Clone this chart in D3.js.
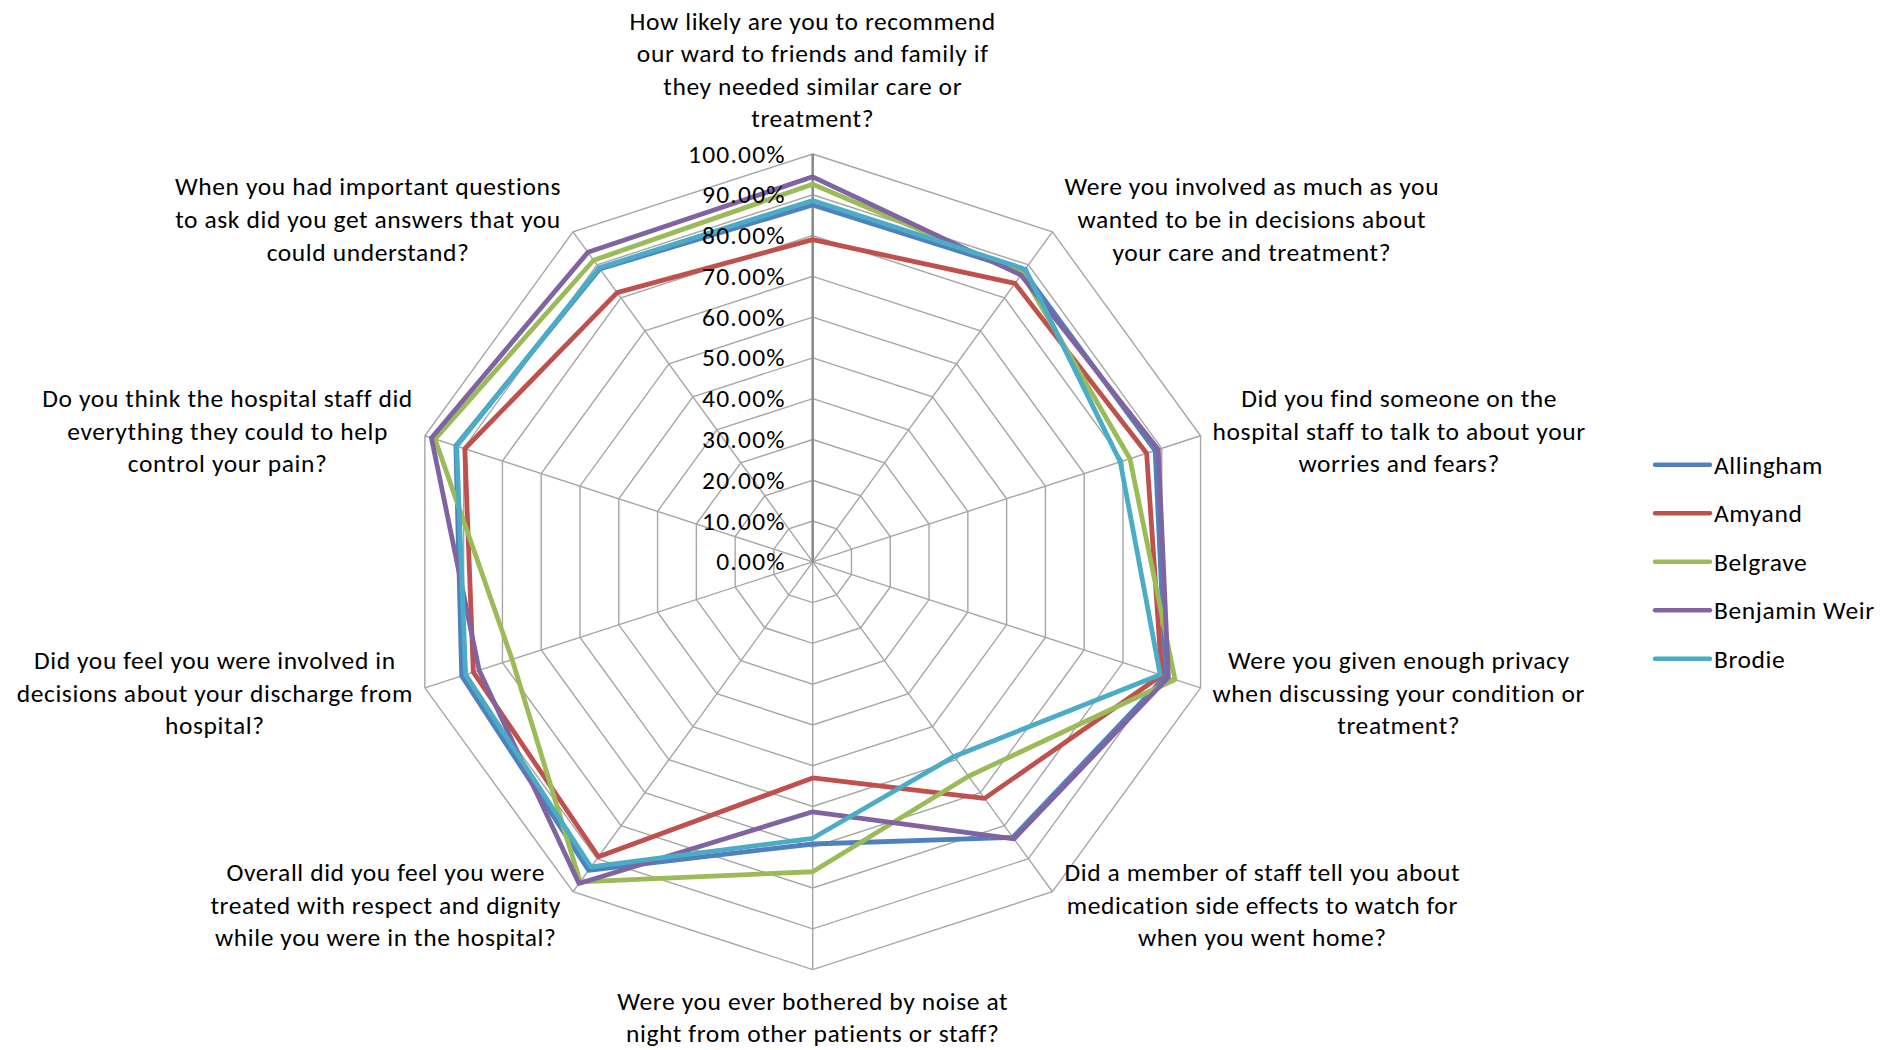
<!DOCTYPE html>
<html>
<head>
<meta charset="utf-8">
<script src="https://cdn.jsdelivr.net/npm/d3@7"></script>
<style>
  html, body { margin: 0; padding: 0; background: #fff; }
  svg { display: block; }
  text { font-family: Calibri, Carlito, Lato, "Noto Sans", sans-serif; fill: #000; letter-spacing: 0.6px; }
  text.tick { letter-spacing: 1.2px; }
</style>
</head>
<body>
<svg id="chart" width="1895" height="1050"></svg>
<script>
// Survey questions, clockwise from the top (line breaks as printed)
const categories = [
  "How likely are you to recommend\nour ward to friends and family if\nthey needed similar care or\ntreatment?",
  "Were you involved as much as you\nwanted to be in decisions about\nyour care and treatment?",
  "Did you find someone on the\nhospital staff to talk to about your\nworries and fears?",
  "Were you given enough privacy\nwhen discussing your condition or\ntreatment?",
  "Did a member of staff tell you about\nmedication side effects to watch for\nwhen you went home?",
  "Were you ever bothered by noise at\nnight from other patients or staff?",
  "Overall did you feel you were\ntreated with respect and dignity\nwhile you were in the hospital?",
  "Did you feel you were involved in\ndecisions about your discharge from\nhospital?",
  "Do you think the hospital staff did\neverything they could to help\ncontrol your pain?",
  "When you had important questions\nto ask did you get answers that you\ncould understand?"
];

// Ward names (legend order = drawing order)
const wards = ["Allingham", "Amyand", "Belgrave", "Benjamin Weir", "Brodie"];

// Positive responses per question, percent
const allingham    = [87.5, 88.0, 88.3, 91.0, 83.5, 69.2, 93.5, 90.5, 92.0, 88.8];
const amyand       = [79.0, 84.4, 86.1, 90.0, 71.7, 53.0, 89.4, 87.5, 89.7, 81.6];
const belgrave     = [92.6, 87.4, 81.8, 93.4, 65.0, 76.0, 97.0, 77.5, 97.4, 91.4];
const benjaminWeir = [94.4, 86.9, 89.1, 91.7, 84.0, 61.3, 97.5, 86.0, 98.3, 93.8];
const brodie       = [88.6, 88.7, 79.3, 89.6, 59.0, 67.8, 92.5, 89.5, 91.8, 89.1];

// Radial axis ticks
const tickValues = [0, 10, 20, 30, 40, 50, 60, 70, 80, 90, 100];
const tickLabels = ["0.00%", "10.00%", "20.00%", "30.00%", "40.00%", "50.00%",
                    "60.00%", "70.00%", "80.00%", "90.00%", "100.00%"];

const wardColors = ["#4F81BD", "#C0504D", "#9BBB59", "#8064A2", "#4BACC6"];
const seriesValues = [allingham, amyand, belgrave, benjaminWeir, brodie];

// ---- layout ----
const svg = d3.select("#chart");
const cx = 812.7, cy = 561.8, R = 407.8;
const fontSize = 25.5, lineH = 32.6;

const r = d3.scaleLinear().domain([0, 100]).range([0, R]);
const angle = d3.scaleLinear().domain([0, categories.length]).range([0, 2 * Math.PI]);

const plot = svg.append("g").attr("transform", `translate(${cx},${cy})`);
const pt = (i, v) => [r(v) * Math.sin(angle(i)), -r(v) * Math.cos(angle(i))];
const idx = d3.range(categories.length);

// Ring gridlines (10% steps)
const ringLine = d3.lineRadial()
  .angle(i => angle(i))
  .curve(d3.curveLinearClosed);

plot.append("g").selectAll("path")
  .data(tickValues.filter(t => t > 0))
  .join("path")
  .attr("d", t => ringLine.radius(() => r(t))(idx))
  .attr("fill", "none")
  .attr("stroke", "#a6a6a6")
  .attr("stroke-width", 1.4);

// Spokes for each question
plot.append("g").selectAll("line")
  .data(idx.filter(i => i !== 0))
  .join("line")
  .attr("x1", 0).attr("y1", 0)
  .attr("x2", i => pt(i, 100)[0])
  .attr("y2", i => pt(i, 100)[1])
  .attr("stroke", "#a6a6a6")
  .attr("stroke-width", 1.4);

// Value axis (vertical)
plot.append("line")
  .attr("x1", 0).attr("y1", 0)
  .attr("x2", 0).attr("y2", -r(100))
  .attr("stroke", "#8c8c8c")
  .attr("stroke-width", 2.6);

// Series
const seriesLine = d3.lineRadial()
  .angle((d, i) => angle(i))
  .radius(d => r(d))
  .curve(d3.curveLinearClosed);

plot.append("g").selectAll("path")
  .data(seriesValues)
  .join("path")
  .attr("d", d => seriesLine(d))
  .attr("fill", "none")
  .attr("stroke", (d, i) => wardColors[i])
  .attr("stroke-width", 4.8)
  .attr("stroke-linejoin", "round");

// Tick labels along the value axis
plot.append("g").selectAll("text")
  .data(tickValues)
  .join("text")
  .attr("class", "tick")
  .attr("x", -27)
  .attr("y", t => -r(t) + 8.5)
  .attr("text-anchor", "end")
  .style("font-size", fontSize + "px")
  .text((t, i) => tickLabels[i]);

// Question labels around the web
const labels = plot.append("g");
categories.forEach((c, i) => {
  const a = angle(i);
  const s = Math.sin(a), co = Math.cos(a);
  const [ex, ey] = pt(i, 100);
  const lines = c.split("\n");
  const t = labels.append("text")
    .attr("text-anchor", "middle")
    .style("font-size", fontSize + "px");
  lines.forEach((ln, k) => {
    t.append("tspan").attr("x", 0).attr("y", k * lineH).text(ln);
  });
  const w = d3.max(t.selectAll("tspan").nodes(), n => n.getComputedTextLength());
  const n = lines.length;
  let bx, by;
  if (Math.abs(s) < 0.01) {
    bx = ex;
    by = co > 0 ? ey - 26.5 - (n - 1) * lineH : ey + 40;
  } else {
    bx = ex + Math.sign(s) * (w / 2 + 12);
    const midY = ey - co * 16;
    by = midY - (n - 1) * lineH / 2 + 9;
  }
  t.attr("transform", `translate(${bx},${by})`);
});

// Legend
const legend = svg.append("g").attr("transform", `translate(1655,${cy})`);
const legendStep = 48.5;
const items = legend.selectAll("g")
  .data(wards)
  .join("g")
  .attr("transform", (d, i) => `translate(0,${(i - (wards.length - 1) / 2) * legendStep})`);
items.append("line")
  .attr("x1", 0).attr("x2", 55)
  .attr("y1", 0).attr("y2", 0)
  .attr("stroke", (d, i) => wardColors[i])
  .attr("stroke-width", 4.4)
  .attr("stroke-linecap", "round");
items.append("text")
  .attr("x", 59)
  .attr("y", 9)
  .style("font-size", fontSize + "px")
  .text(d => d);
</script>
</body>
</html>
